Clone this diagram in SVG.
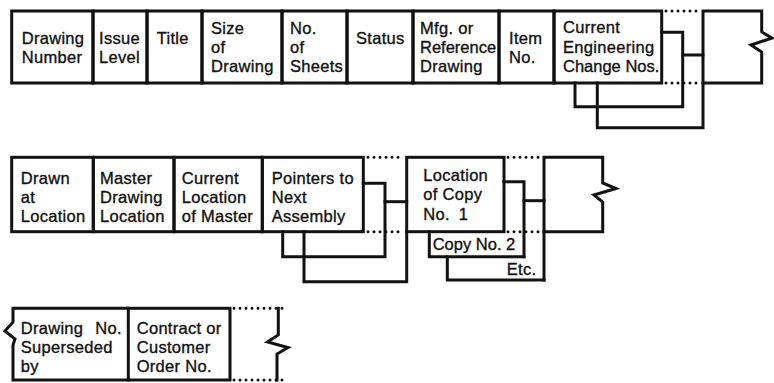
<svg xmlns="http://www.w3.org/2000/svg" width="774" height="383" viewBox="0 0 774 383">
<style>
.b{fill:none;stroke:#111;stroke-width:3;stroke-linejoin:miter;stroke-linecap:square}
.d{fill:none;stroke:#111;stroke-width:3;stroke-dasharray:0 6;stroke-linecap:round}
text{font-family:"Liberation Sans",Arial,Helvetica,sans-serif;font-size:16.5px;fill:#111;stroke:#111;stroke-width:0.35;letter-spacing:0.3px}
.n{letter-spacing:0}
</style>
<rect width="774" height="383" fill="#fff"/>
<!-- Row 1 -->
<g id="drawing-number"><rect class="b" x="11.7" y="11" width="81.3" height="72"/><text x="21.7" y="43.5">Drawing</text><text x="21.7" y="62.5">Number</text></g>
<g id="issue-level"><rect class="b" x="93" y="11" width="54" height="72"/><text x="99" y="43.5">Issue</text><text x="99" y="62.5">Level</text></g>
<g id="title"><rect class="b" x="147" y="11" width="55" height="72"/><text x="156.7" y="43.5">Title</text></g>
<g id="size-of-drawing"><rect class="b" x="202" y="11" width="80" height="72"/><text x="211" y="34">Size</text><text x="211" y="53">of</text><text x="211" y="72">Drawing</text></g>
<g id="no-of-sheets"><rect class="b" x="282" y="11" width="65" height="72"/><text x="290" y="34">No.</text><text x="290" y="53">of</text><text x="290" y="72">Sheets</text></g>
<g id="status"><rect class="b" x="347" y="11" width="66" height="72"/><text x="356" y="43.5">Status</text></g>
<g id="mfg-ref"><rect class="b" x="413" y="11" width="86" height="72"/><text x="420" y="33.5">Mfg. or</text><text class="n" x="420" y="52.5">Reference</text><text x="420" y="71.5">Drawing</text></g>
<g id="item-no"><rect class="b" x="499" y="11" width="55" height="72"/><text x="509" y="44">Item</text><text x="509" y="63">No.</text></g>
<g id="current-ecn"><rect class="b" x="554" y="11" width="107.7" height="72"/><text x="563" y="33">Current</text><text x="563" y="52.5">Engineering</text><text class="n" x="563" y="72">Change Nos.</text></g>
<g id="row1-continued"><path class="b" d="M703,11 H761.7 V32 L772,38 L751,45 L761.7,52 V83 H703 Z"/></g>
<!-- Row 2 -->
<g id="drawn-at-location"><rect class="b" x="11.7" y="157.3" width="81.6" height="74.4"/><text x="20.7" y="183.5">Drawn</text><text x="20.7" y="202.5">at</text><text x="20.7" y="221.5">Location</text></g>
<g id="master-drawing-location"><rect class="b" x="93.3" y="157.3" width="80.7" height="74.4"/><text x="100" y="183.5">Master</text><text x="100" y="202.5">Drawing</text><text x="100" y="221.5">Location</text></g>
<g id="current-location"><rect class="b" x="174" y="157.3" width="88.3" height="74.4"/><text x="181.7" y="183.5">Current</text><text x="181.7" y="202.5">Location</text><text x="181.7" y="221.5">of Master</text></g>
<g id="pointers"><rect class="b" x="262.3" y="157.3" width="101" height="74.4"/><text x="271.7" y="183.5">Pointers to</text><text x="271.7" y="202.5">Next</text><text x="271.7" y="221.5">Assembly</text></g>
<g id="location-copy-1"><rect class="b" x="406.7" y="157.3" width="97.3" height="74.4"/><text x="423.3" y="181">Location</text><text x="423.3" y="200">of Copy</text><text x="423.3" y="220" word-spacing="4">No. 1</text></g>
<g id="copy-no-2"><path class="b" d="M429.3,231.7 V256.7 H524"/><text class="n" x="432.7" y="250">Copy No. 2</text></g>
<g id="etc"><path class="b" d="M447.3,256.7 V280 H544"/><text x="506.7" y="275">Etc.</text></g>
<g id="row2-continued"><path class="b" d="M544,157.3 H602.7 V183 L616,188.5 L594,195 L602.7,202 V231.7 H544 Z"/></g>
<!-- Row 3 -->
<g id="superseded-by"><path class="b" d="M128.3,308.3 H13 V322 L5,331 L15,339 L13,345 V380 H128.3"/><text x="20.7" y="333.5" word-spacing="7">Drawing No.</text><text x="20.7" y="353">Superseded</text><text x="20.7" y="372">by</text></g>
<g id="contract-order"><rect class="b" x="128.3" y="308.3" width="101.7" height="71.7"/><text x="136.7" y="333.5">Contract or</text><text x="136.7" y="353">Customer</text><text x="136.7" y="372">Order No.</text></g>
<g id="row3-continued"><path class="b" d="M278.3,308.3 V335 L267.5,342 L288,347.5 L277,354 V380"/></g>
<!-- Connectors -->
<g id="connectors">
<path class="b" d="M661.7,32.3 H682.7 V106.7 H575 V83"/>
<path class="b" d="M682.7,55 H703"/>
<path class="b" d="M597.3,83 V127.7 H703 V83"/>
<path class="b" d="M363.3,183.3 H385 V256.7 H282.7 V231.7"/>
<path class="b" d="M385,201.7 H406.7"/>
<path class="b" d="M304,231.7 V281.7 H406.7 V231.7"/>
<path class="b" d="M504,181.7 H524 V256.7"/>
<path class="b" d="M524,200.7 H544"/>
<path class="b" d="M544,231.7 V280"/>
<path class="d" d="M666,11 H700 M666,83 H700"/>
<path class="d" d="M368,157.3 H404 M368,231.7 H404 M508,157.3 H542 M508,231.7 H542"/>
<path class="d" d="M234,308.3 H284 M234,380 H286"/>
</g>
</svg>
